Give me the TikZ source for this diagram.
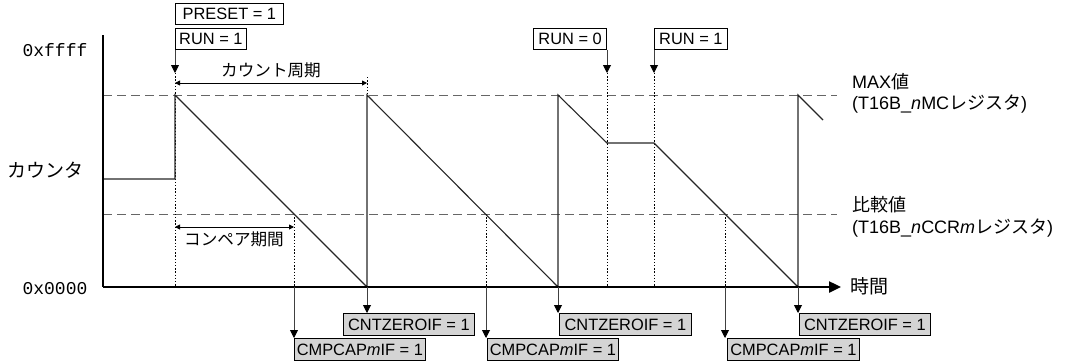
\documentclass[tikz,border=0pt]{standalone}
\usepackage{fontspec}
\setmainfont{Liberation Sans}
\newfontfamily\cjkfnt{Noto Sans CJK JP}
\newfontfamily\monofnt{Liberation Mono}
\usetikzlibrary{arrows.meta}
\newcommand\latfs{\fontsize{16.4}{19}\selectfont}
\newcommand\biglatfs{\fontsize{18}{21}\selectfont}
\newcommand\jpfs{\cjkfnt\fontsize{16.6}{20}\selectfont}
\newcommand\bigjpfs{\cjkfnt\fontsize{19}{22}\selectfont}
\newcommand\jp[1]{{\cjkfnt #1}}
\begin{document}
\begin{tikzpicture}[x=1pt,y=-1pt,
  axis/.style={line width=2.4pt},
  sig/.style={line width=1.1pt, black!85},
  refline/.style={line width=0.9pt, black!60, dash pattern=on 9pt off 5pt},
  guide/.style={line width=0.9pt, dash pattern=on 1.4pt off 1.8pt},
  tag/.style={draw, line width=0.8pt, inner sep=0pt, minimum height=21pt, font=\latfs},
  flag/.style={tag, fill=black!17, minimum height=22pt},
  arr/.style={line width=0.9pt, black!75, -{Triangle[length=8pt,width=8pt,black]}},
  meas/.style={line width=0.9pt, {Triangle[length=5pt,width=5pt]}-{Triangle[length=5pt,width=5pt]}},
  lbl/.style={inner sep=0pt, font=\biglatfs},
  jlbl/.style={inner sep=0pt, font=\jpfs},
  bjlbl/.style={inner sep=0pt, font=\bigjpfs},
  mlbl/.style={inner sep=0pt, font=\monofnt\fontsize{18}{20}\selectfont},
]
\useasboundingbox (0,0) rectangle (1075,362);

% key coordinates
\coordinate (o) at (103,287);
\coordinate (ytop) at (103,35);
\coordinate (xend) at (841,287);
\coordinate (p0) at (103,179);
\coordinate (p1) at (175,179);
\coordinate (a1) at (175,95);
\coordinate (z1) at (367,287);
\coordinate (a2) at (367,95);
\coordinate (z2) at (558,287);
\coordinate (a3) at (558,95);
\coordinate (s1) at (607,143);
\coordinate (s2) at (654,143);
\coordinate (z3) at (798,287);
\coordinate (a4) at (798,95);
\coordinate (e) at (823,120);

% reference lines
\coordinate (mx0) at (103,95);  \coordinate (mx1) at (837,95);
\coordinate (cp0) at (103,214); \coordinate (cp1) at (837,214);
\draw[refline] (mx0) -- (mx1);
\draw[refline] (cp0) -- (cp1);

% top boxes
\node[tag, minimum width=108pt, anchor=north west] (preset) at (175,3) {PRESET = 1};
\node[tag, minimum width=71pt, anchor=north west] (run1) at (175,28) {RUN = 1};
\node[tag, minimum width=73pt, anchor=north east] (run0) at (607,28) {RUN = 0};
\node[tag, minimum width=73pt, anchor=north west] (run1b) at (654,28) {RUN = 1};

\coordinate (t1) at (175,73);
\coordinate (t2) at (607,73);
\coordinate (t3) at (654,73);
\draw[arr] (run1.south west) -- (t1);
\draw[arr] (run0.south east) -- (t2);
\draw[arr] (run1b.south west) -- (t3);

% dotted guides
\coordinate (g1) at (175,287);
\coordinate (g2) at (607,287);
\coordinate (g3) at (654,287);
\coordinate (g4t) at (367,77);
\coordinate (c1) at (294,214); \coordinate (c1b) at (294,287);
\coordinate (c2) at (486,214); \coordinate (c2b) at (486,287);
\coordinate (c3) at (725,214); \coordinate (c3b) at (725,287);
\draw[guide] (t1) -- (g1);
\draw[guide] (t2) -- (g2);
\draw[guide] (t3) -- (g3);
\draw[guide] (g4t) -- (a2);
\draw[guide] (c1) -- (c1b);
\draw[guide] (c2) -- (c2b);
\draw[guide] (c3) -- (c3b);

% measure arrows
\coordinate (m1a) at (175,83); \coordinate (m1b) at (367,83);
\draw[meas] (m1a) -- (m1b);
\node[jlbl] (lcnt) at (271,70) {カウント周期};
\coordinate (m2a) at (175,227); \coordinate (m2b) at (294,227);
\draw[meas] (m2a) -- (m2b);
\node[jlbl] (lcmp) at (234,239) {コンペア期間};

% counter signal
\draw[sig] (p0) -- (p1) -- (a1) -- (z1) -- (a2) -- (z2) -- (a3) -- (s1) -- (s2) -- (z3) -- (a4) -- (e);

% axes
\draw[axis] (ytop) -- (o);
\draw[axis, -{Triangle[length=12pt,width=11pt]}] (o) -- (xend);

% axis labels
\node[mlbl] (lff) at (55,50) {0xffff};
\node[mlbl] (l00) at (55,289) {0x0000};
\node[bjlbl] (lctr) at (45,170) {カウンタ};
\node[bjlbl, anchor=west] (ltime) at (850,286) {時間};
\node[lbl, anchor=west] (lmax) at (852,82) {MAX\jp{値}};
\node[lbl, anchor=west] (lmaxr) at (852,104) {(T16B\_\textit{n}MC\jp{レジスタ})};
\node[lbl, anchor=west] (lcv) at (852,205) {\jp{比較値}};
\node[lbl, anchor=west] (lcvr) at (852,228) {(T16B\_\textit{n}CCR\textit{m}\jp{レジスタ})};

% bottom flags
\node[flag, minimum width=131pt, anchor=north west] (cz1) at (343,313) {CNTZEROIF = 1};
\node[flag, minimum width=132pt, anchor=north west] (cz2) at (559,313) {CNTZEROIF = 1};
\node[flag, minimum width=131pt, anchor=north west] (cz3) at (799,313) {CNTZEROIF = 1};
\node[flag, minimum width=131pt, anchor=north west] (cc1) at (294,338) {CMPCAP\textit{m}IF = 1};
\node[flag, minimum width=131pt, anchor=north west] (cc2) at (487,338) {CMPCAP\textit{m}IF = 1};
\node[flag, minimum width=132pt, anchor=north west] (cc3) at (727,338) {CMPCAP\textit{m}IF = 1};

\draw[arr] (z1) -- (z1 |- cz1.north);
\draw[arr] (z2) -- (z2 |- cz2.north);
\draw[arr] (z3) -- (z3 |- cz3.north);
\draw[arr] (c1b) -- (cc1.north west);
\draw[arr] (c2b) -- (c2b |- cc2.north);
\draw[arr] (c3b) -- (c3b |- cc3.north);
\end{tikzpicture}
\end{document}
